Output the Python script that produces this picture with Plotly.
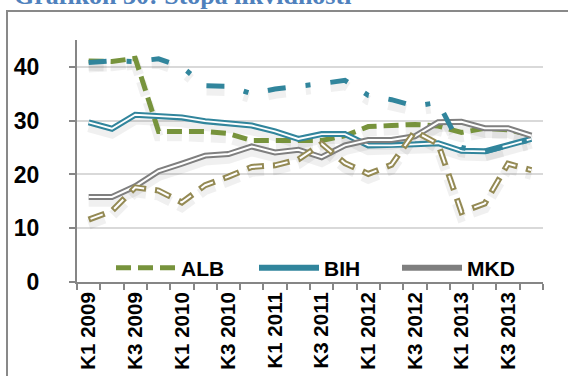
import plotly.graph_objects as go

categories = ["K1 2009", "K2 2009", "K3 2009", "K4 2009",
              "K1 2010", "K2 2010", "K3 2010", "K4 2010",
              "K1 2011", "K2 2011", "K3 2011", "K4 2011",
              "K1 2012", "K2 2012", "K3 2012", "K4 2012",
              "K1 2013", "K2 2013", "K3 2013", "K4 2013"]
tick_labels = ["K1 2009", "", "K3 2009", "",
               "K1 2010", "", "K3 2010", "",
               "K1 2011", "", "K3 2011", "",
               "K1 2012", "", "K3 2012", "",
               "K1 2013", "", "K3 2013", ""]

alb = [41.1, 41.0, 41.6, 28.0, 28.0, 28.0, 27.6, 26.3, 26.3, 26.2,
       26.3, 27.2, 28.9, 29.1, 29.3, 29.0, 27.8, 28.6, 28.3, 27.3]
bih = [29.7, 28.5, 31.1, 30.9, 30.6, 29.9, 29.5, 29.1, 28.0, 26.6,
       27.5, 27.5, 25.4, 25.4, 25.6, 25.8, 24.4, 24.3, 25.4, 26.6]
mkd = [15.8, 15.8, 17.8, 20.6, 22.0, 23.5, 23.8, 25.2, 24.1, 24.6,
       23.2, 25.4, 26.4, 26.4, 27.1, 29.7, 29.8, 28.6, 28.6, 27.2]
mne = [40.8, 41.1, 41.0, 41.5, 40.0, 36.5, 36.4, 35.0, 35.9, 36.3,
       36.9, 37.5, 34.7, 33.9, 32.7, 33.4, 25.0, 24.2, 25.3, 26.5]
srb = [11.6, 13.2, 17.6, 17.0, 14.8, 18.0, 19.6, 21.4, 21.7, 22.8,
       25.7, 22.1, 20.1, 21.8, 28.0, 25.7, 13.0, 14.6, 22.0, 20.8]

GREEN = "#77933C"
TEAL = "#31859C"
GRAY = "#7F7F7F"
KHAKI = "#948A54"
SHADOW = "rgba(0,0,0,0.06)"
SH = 0.9  # shadow drop in data units

fig = go.Figure()

# soft shadows
for vals, dash in [(alb, "15px,7px"), (bih, "solid"), (mkd, "solid"),
                   (mne, "18px,20px,5px,20px"), (srb, "17px,9px")]:
    fig.add_trace(go.Scatter(x=categories, y=[v - SH for v in vals], mode="lines",
                             line=dict(color=SHADOW, width=10, dash=dash),
                             showlegend=False, hoverinfo="skip"))

fig.add_trace(go.Scatter(x=categories, y=alb, name="ALB", mode="lines",
                         line=dict(color=GREEN, width=5, dash="15px,7px")))
fig.add_trace(go.Scatter(x=categories, y=bih, name="BIH", mode="lines",
                         line=dict(color=TEAL, width=6)))
fig.add_trace(go.Scatter(x=categories, y=bih, mode="lines", showlegend=False,
                         line=dict(color="white", width=1.8), hoverinfo="skip"))
fig.add_trace(go.Scatter(x=categories, y=mkd, name="MKD", mode="lines",
                         line=dict(color=GRAY, width=6)))
fig.add_trace(go.Scatter(x=categories, y=mkd, mode="lines", showlegend=False,
                         line=dict(color="white", width=2), hoverinfo="skip"))
fig.add_trace(go.Scatter(x=categories, y=mne, name="MNE", mode="lines", showlegend=False,
                         line=dict(color=TEAL, width=5, dash="18px,20px,5px,20px")))
fig.add_trace(go.Scatter(x=categories, y=srb, name="SRB", mode="lines", showlegend=False,
                         line=dict(color=KHAKI, width=6, dash="17px,9px")))
fig.add_trace(go.Scatter(x=categories, y=srb, mode="lines", showlegend=False,
                         line=dict(color="white", width=2, dash="0px,2px,13px,11px"),
                         hoverinfo="skip"))

W, H = 568, 376
PL, PT, PR, PB = 77, 40, 543, 282   # plot area in page pixels
L, T, R, B = PL, PT, W - PR, H - PB
pw, ph = PR - PL, PB - PT

def px_x(x):
    return (x - PL) / pw

def px_y(y):
    return (PB - y) / ph

fig.update_layout(
    width=W, height=H,
    margin=dict(l=L, r=R, t=T, b=B, autoexpand=False),
    paper_bgcolor="white", plot_bgcolor="white",
    font=dict(family="Liberation Sans", color="black"),
    showlegend=True,
    legend=dict(orientation="h", x=px_x(111), xanchor="left", y=px_y(268), yanchor="middle",
                font=dict(size=21, weight="bold", family="Liberation Sans"),
                bgcolor="rgba(0,0,0,0)", itemwidth=60, entrywidth=68,
                entrywidthmode="pixels", tracegroupgap=0),
    xaxis=dict(type="category", categoryorder="array", categoryarray=categories,
               tickmode="array", tickvals=categories, ticktext=tick_labels,
               tickson="boundaries", ticks="outside", ticklen=6, tickwidth=1.5,
               tickcolor="#868686", tickangle=-90,
               tickfont=dict(size=20.5, weight="bold", family="Liberation Sans"),
               showline=True, linecolor="#868686", linewidth=2,
               showgrid=False, zeroline=False, range=[-0.5, 19.5]),
    yaxis=dict(range=[0, 45], tickvals=[0, 10, 20, 30, 40],
               ticks="outside", ticklen=6, tickwidth=1.5, tickcolor="#868686",
               tickfont=dict(size=23, weight="bold", family="Liberation Sans"),
               showline=True, linecolor="#868686", linewidth=2,
               showgrid=True, gridcolor="#D9D9D9", gridwidth=1.5, zeroline=False,
               ticklabelstandoff=25),
    shapes=[dict(type="rect", xref="paper", yref="paper",
                 x0=px_x(7), x1=px_x(590), y0=px_y(420), y1=px_y(11),
                 line=dict(color="#898989", width=2), fillcolor="rgba(0,0,0,0)",
                 layer="below")],
    annotations=[dict(text="Grafikon 30: Stopa likvidnosti", xref="paper", yref="paper",
                      x=px_x(12), xanchor="left", y=px_y(12), yanchor="bottom",
                      showarrow=False,
                      font=dict(family="Liberation Serif", size=26, weight="bold",
                                color="#4F81BD"))],
)

fig.write_html("out.html", config={"displayModeBar": False},
               post_script="document.body.style.margin='0px';document.body.style.overflow='hidden';")
